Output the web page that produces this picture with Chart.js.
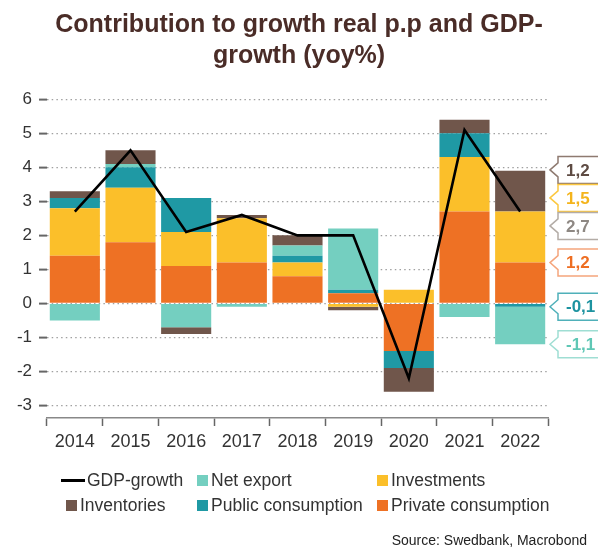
<!DOCTYPE html>
<html><head><meta charset="utf-8">
<script src="https://cdn.jsdelivr.net/npm/chart.js@4.4.1/dist/chart.umd.min.js"></script>
<style>
html,body{margin:0;padding:0;background:#fff;}
#wrap{position:relative;width:598px;height:551px;font-family:"Liberation Sans",Arial,sans-serif;overflow:hidden;}
#title{position:absolute;top:8px;left:0;width:598px;text-align:center;font-weight:bold;font-size:25px;line-height:31px;color:#4a2c27;}
#c{position:absolute;left:0;top:0;}
.li{position:absolute;font-size:17.5px;color:#333;white-space:nowrap;line-height:20px;}
.sw{position:absolute;}
#src{position:absolute;right:11px;top:532px;font-size:14px;color:#222;}
</style></head>
<body><div id="wrap">
<canvas id="c" width="598" height="551"></canvas>
<div id="title">Contribution to growth real p.p and GDP-<br>growth (yoy%)</div>
<div id="legend"></div>
<div id="src">Source: Swedbank, Macrobond</div>
</div>
<script>
const years = ['2014','2015','2016','2017','2018','2019','2020','2021','2022'];
const gdpGrowth          = [2.7, 4.5, 2.1, 2.6, 2.0, 2.0, -2.2, 5.1, 2.7];
const privateConsumption = [1.4, 1.8, 1.1, 1.2, 0.8, 0.3, -1.4, 2.7, 1.2];
const investments        = [1.4, 1.6, 1.0, 1.3, 0.4, -0.1, 0.4, 1.6, 1.5];
const publicConsumption  = [0.3, 0.6, 1.0, 0.0, 0.2, 0.1, -0.5, 0.7, -0.1];
const netExport          = [-0.5, 0.1, -0.7, -0.1, 0.3, 1.8, 0.0, -0.4, -1.1];
const inventories        = [0.2, 0.4, -0.2, 0.1, 0.3, -0.1, -0.7, 0.4, 1.2];
const yTicks = [-3,-2,-1,0,1,2,3,4,5,6];

const C = {
  priv:'#ee7124', inv:'#fbbf2a', pub:'#1f99a4', net:'#74cfc0', invt:'#70564b', gdp:'#000000'
};

const datasets = [
  {type:'line', label:'GDP-growth', data:gdpGrowth, borderColor:C.gdp, backgroundColor:C.gdp, borderWidth:2.6, pointRadius:0, tension:0, order:0, stack:'gdp'},
  {type:'bar', label:'Private consumption', data:privateConsumption, backgroundColor:C.priv, order:1},
  {type:'bar', label:'Investments', data:investments, backgroundColor:C.inv, order:1},
  {type:'bar', label:'Public consumption', data:publicConsumption, backgroundColor:C.pub, order:1},
  {type:'bar', label:'Net export', data:netExport, backgroundColor:C.net, order:1},
  {type:'bar', label:'Inventories', data:inventories, backgroundColor:C.invt, order:1}
];

// right-side value callouts for the last year
const calloutPlugin = {
  id:'callouts',
  afterDatasetsDraw(chart){
    const ctx = chart.ctx;
    const last = years.length-1;
    const styles = {
      'GDP-growth':{stroke:'#b3aca6', text:'#8e8883'},
      'Private consumption':{stroke:'#f5a57c', text:'#ee6e22'},
      'Investments':{stroke:'#fcc840', text:'#f4b41c'},
      'Public consumption':{stroke:'#4fb0b9', text:'#1d93a0'},
      'Net export':{stroke:'#9fded3', text:'#5fc7b5'},
      'Inventories':{stroke:'#8e7a70', text:'#5e4b43'}
    };
    const items = [];
    chart.data.datasets.forEach((ds,i)=>{
      const el = chart.getDatasetMeta(i).data[last];
      items.push({y:el.y, v:ds.data[last], s:styles[ds.label], line:ds.type==='line'});
    });
    items.sort((a,b)=> (Math.abs(a.y-b.y)<0.5 ? (a.line?1:0)-(b.line?1:0) : a.y-b.y));
    const gap = 28;
    let groups = items.map(it=>({items:[it], c:it.y}));
    let changed = true;
    while(changed){
      changed = false;
      for(let i=0;i<groups.length-1;i++){
        const a=groups[i], b=groups[i+1];
        const aBottom = a.c + (a.items.length-1)*gap/2;
        const bTop = b.c - (b.items.length-1)*gap/2;
        if(bTop - aBottom < gap){
          const all = a.items.concat(b.items);
          const c = all.reduce((s,it)=>s+it.y,0)/all.length;
          groups.splice(i,2,{items:all,c:c});
          changed = true; break;
        }
      }
    }
    const tip = 550, boxL = 558, boxR = 620, h = 27;
    groups.forEach(g=>{
      g.items.forEach((it,k)=>{
        const y = g.c + (k-(g.items.length-1)/2)*gap;
        ctx.save();
        ctx.beginPath();
        ctx.moveTo(tip,y);
        ctx.lineTo(boxL,y-7);
        ctx.lineTo(boxL,y-h/2);
        ctx.lineTo(boxR,y-h/2);
        ctx.lineTo(boxR,y+h/2);
        ctx.lineTo(boxL,y+h/2);
        ctx.lineTo(boxL,y+7);
        ctx.closePath();
        ctx.fillStyle='#fff'; ctx.fill();
        ctx.lineWidth=1.5; ctx.strokeStyle=it.s.stroke; ctx.stroke();
        ctx.fillStyle=it.s.text;
        ctx.font='bold 17px "Liberation Sans", Arial, sans-serif';
        ctx.textBaseline='middle'; ctx.textAlign='left';
        ctx.fillText(it.v.toFixed(1).replace('.',','), 566, y+1);
        ctx.restore();
      });
    });
  }
};

const chart = new Chart(document.getElementById('c'), {
  data:{labels:years, datasets:datasets},
  options:{
    responsive:false, animation:false,
    layout:{padding:{top:99.3, bottom:93, left:0, right:50}},
    plugins:{legend:{display:false}, title:{display:false}, tooltip:{enabled:false}},
    datasets:{bar:{barPercentage:0.9, categoryPercentage:1.0, borderWidth:0}},
    scales:{
      x:{stacked:true,
        grid:{display:true, drawOnChartArea:false, drawTicks:true, tickLength:8, offset:true, color:'#666', tickColor:'#666', tickWidth:1.5},
        border:{display:true, color:'#888', width:1.5},
        ticks:{color:'#333', font:{size:18, family:'"Liberation Sans", Arial, sans-serif'}, padding:5, maxRotation:0},
        afterFit(s){ s.height = 40; }
      },
      y:{stacked:true, min:-3.37, max:6,
        afterBuildTicks(s){ s.ticks = yTicks.map(v=>({value:v})); },
        afterFit(s){ s.width = 47; },
        border:{display:false, dash:[1.5,3.2]},
        grid:{color:'#a0a0a0', lineWidth:1.2, tickLength:8, tickColor:'#666', tickWidth:2, tickBorderDash:[]},
        ticks:{color:'#333', font:{size:17, family:'"Liberation Sans", Arial, sans-serif'}, padding:7}
      }
    }
  },
  plugins:[calloutPlugin]
});

// legend built from dataset labels/colors
const legendLayout = [
  ['GDP-growth', 61, 480], ['Net export', 197, 480], ['Investments', 377, 480],
  ['Inventories', 66, 505], ['Public consumption', 197, 505], ['Private consumption', 377, 505]
];
const lg = document.getElementById('legend');
legendLayout.forEach(([name,x,y])=>{
  const ds = datasets.find(d=>d.label===name);
  const sw = document.createElement('div');
  sw.className='sw';
  if(ds.type==='line'){
    sw.style.cssText=`left:${x}px;top:${y-1.5}px;width:24px;height:3px;background:${ds.borderColor}`;
  } else {
    sw.style.cssText=`left:${x}px;top:${y-5.5}px;width:11px;height:11px;background:${ds.backgroundColor}`;
  }
  lg.appendChild(sw);
  const t = document.createElement('div');
  t.className='li';
  t.textContent=name;
  t.style.left=(ds.type==='line'? x+26 : x+14)+'px';
  t.style.top=(y-10)+'px';
  lg.appendChild(t);
});
</script>
</body></html>
